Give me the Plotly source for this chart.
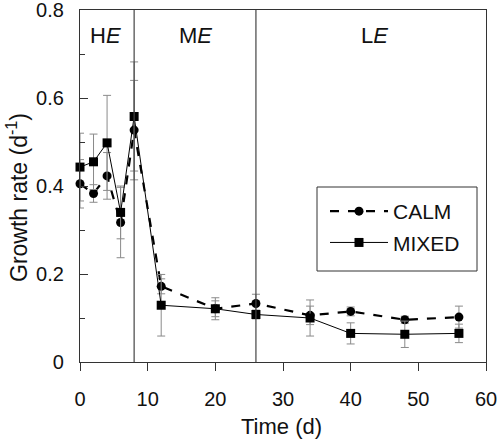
import plotly.graph_objects as go

# Data
time_d = [0, 2, 4, 6, 8, 12, 20, 26, 34, 40, 48, 56]
calm = [0.405, 0.383, 0.423, 0.317, 0.527, 0.172, 0.121, 0.133, 0.106, 0.115, 0.096, 0.102]
calm_err = [0.055, 0.020, 0.053, 0.080, 0.113, 0.017, 0.025, 0.021, 0.021, 0.010, 0.008, 0.025]
mixed = [0.443, 0.455, 0.498, 0.340, 0.558, 0.129, 0.121, 0.108, 0.100, 0.065, 0.063, 0.065]
mixed_err = [0.077, 0.063, 0.108, 0.060, 0.124, 0.070, 0.018, 0.010, 0.041, 0.024, 0.030, 0.021]
phase_bounds = [8, 26]
phase_labels = ["H<i>E</i>", "M<i>E</i>", "L<i>E</i>"]
phase_label_x = [3.8, 17, 43.5]
x_title = "Time (d)"
y_title = "Growth rate (d<sup>-1</sup>)"

FONT = "Liberation Sans, Arial, sans-serif"
T, B, L, R = 10, 80, 80, 14

fig = go.Figure()
fig.add_trace(go.Scatter(
    x=time_d, y=calm, name="CALM", mode="lines+markers", legendgroup="calm",
    line=dict(color="black", width=2.2, dash="dash"),
    marker=dict(symbol="circle", size=9, color="black"),
    error_y=dict(type="data", array=calm_err, visible=True, color="#8a8a8a", thickness=1, width=4),
    cliponaxis=False,
))
fig.add_trace(go.Scatter(
    x=time_d, y=mixed, name="MIXED", mode="lines+markers", legendgroup="mixed",
    line=dict(color="black", width=1),
    marker=dict(symbol="square", size=9, color="black"),
    error_y=dict(type="data", array=mixed_err, visible=True, color="#8a8a8a", thickness=1, width=4),
    cliponaxis=False,
))

for xb in phase_bounds:
    fig.add_shape(type="line", x0=xb, x1=xb, y0=0, y1=1, xref="x", yref="paper",
                  line=dict(color="#444444", width=1.2))

for lbl, lx in zip(phase_labels, phase_label_x):
    fig.add_annotation(x=lx, y=0.743, text=lbl, showarrow=False,
                       font=dict(size=22, color="#111111", family=FONT))

# legend frame
pw, ph = 500 - L - R, 442 - T - B
def px_x(p): return (p - L) / pw
def px_y(p): return (442 - B - p) / ph
fig.add_shape(type="rect", xref="paper", yref="paper",
              x0=px_x(317), x1=px_x(477), y0=px_y(271), y1=px_y(187),
              line=dict(color="#333333", width=1), fillcolor="rgba(0,0,0,0)")

# axis titles
fig.add_annotation(x=px_x(281), y=px_y(426), xref="paper", yref="paper", text=x_title,
                   showarrow=False, font=dict(size=22, color="#111111", family=FONT),
                   xanchor="center", yanchor="middle")
fig.add_annotation(x=px_x(17), y=px_y(198), xref="paper", yref="paper", text=y_title,
                   showarrow=False, textangle=-90, font=dict(size=23, color="#111111", family=FONT),
                   xanchor="center", yanchor="middle")

fig.update_layout(
    template="none",
    width=500, height=442,
    margin=dict(l=L, r=R, t=T, b=B, autoexpand=False),
    paper_bgcolor="white", plot_bgcolor="white",
    font=dict(family=FONT, size=20, color="#111111"),
    showlegend=True,
    legend=dict(x=px_x(325), y=px_y(191), xanchor="left", yanchor="top",
                borderwidth=0, bgcolor="rgba(0,0,0,0)",
                font=dict(size=21), itemwidth=58, tracegroupgap=1,
                ),
)
fig.update_xaxes(
    range=[0, 60], tickvals=[0, 10, 20, 30, 40, 50, 60],
    ticks="outside", ticklen=8, tickcolor="#333333", automargin=False,
    showline=True, linecolor="#333333", linewidth=1.2, mirror=True,
    showgrid=False, zeroline=False, ticklabeloverflow="allow", ticklabelstandoff=11,
    tickfont=dict(size=20),
)
fig.update_yaxes(
    range=[0, 0.8], tickvals=[0, 0.2, 0.4, 0.6, 0.8], ticktext=["0", "0.2", "0.4", "0.6", "0.8"],
    ticks="inside", ticklen=8, tickcolor="#333333", automargin=False,
    minor=dict(tickvals=[0.1, 0.3, 0.5, 0.7], ticks="inside", ticklen=5, tickcolor="#333333"),
    showline=True, linecolor="#333333", linewidth=1.2, mirror=True,
    showgrid=False, zeroline=False, ticklabeloverflow="allow", ticklabelstandoff=11,
    tickfont=dict(size=20),
)

fig.write_html("out.html", config={"displayModeBar": False},
               post_script="document.body.style.margin='0';document.body.style.overflow='hidden';")
